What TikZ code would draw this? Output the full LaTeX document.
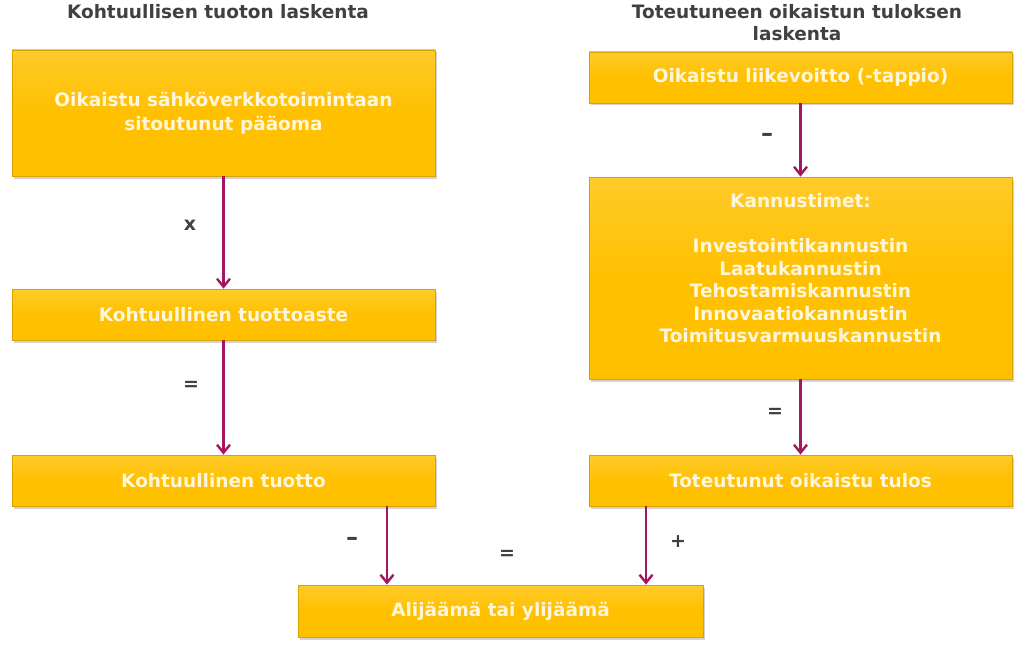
\documentclass[tikz,border=0pt]{standalone}
\usepackage{fontspec}
\setmainfont{DejaVu Sans}
\usetikzlibrary{shadows,arrows.meta,calc}
\definecolor{boxgold}{HTML}{FFC000}
\definecolor{boxtop}{HTML}{FFCB2A}
\definecolor{boxedge}{HTML}{D9A200}
\definecolor{boxtext}{HTML}{FFF6DC}
\definecolor{arrowc}{HTML}{A3175E}
\definecolor{titlec}{HTML}{404040}
\tikzset{
  box/.style={draw=boxedge, line width=0.8pt, top color=boxtop, bottom color=boxgold,
    middle color=boxgold, minimum width=423pt,
    align=center, text=boxtext, font=\bfseries\fontsize{18.5}{24}\selectfont,
    inner sep=0pt, drop shadow={opacity=0.35, shadow xshift=1.5pt, shadow yshift=-2.5pt}},
  arr/.style={draw=arrowc, line width=2.6pt, -{Straight Barb[length=8pt,width=13pt,line width=2.4pt]}},
  lbl/.style={text=titlec, font=\bfseries\fontsize{19}{20}\selectfont},
  ttl/.style={text=titlec, align=center, font=\bfseries\fontsize{18.5}{22}\selectfont}
}
\begin{document}
\begin{tikzpicture}[x=1pt,y=-1pt]
\useasboundingbox (0,0) rectangle (1024,647);
\node[ttl] (tl) at (218,12) {Kohtuullisen tuoton laskenta};
\node[ttl] (tr) at (797,23) {Toteutuneen oikaistun tuloksen\\laskenta};
\node[box, minimum height=126pt] (l1) at (223.5,113) {Oikaistu sähköverkkotoimintaan\\sitoutunut pääoma};
\node[box, minimum height=51pt] (l2) at (223.5,314.5) {Kohtuullinen tuottoaste};
\node[box, minimum height=51pt] (l3) at (223.5,480.5) {Kohtuullinen tuotto};
\node[box, minimum height=51pt] (r1) at (800.5,77.5) {Oikaistu liikevoitto (-tappio)};
\node[box, minimum height=202pt, font=\bfseries\fontsize{18.5}{22.5}\selectfont] (r2) at (800.5,278) {Kannustimet:\\[22.5pt]Investointikannustin\\Laatukannustin\\Tehostamiskannustin\\Innovaatiokannustin\\Toimitusvarmuuskannustin\\[-2.5pt]\mbox{}};
\node[box, minimum height=51pt] (r3) at (800.5,480.5) {Toteutunut oikaistu tulos};
\node[box, minimum width=405pt, minimum height=52pt] (b) at (500.5,611) {Alijäämä tai ylijäämä};
\draw[arr] (l1) -- (l2);
\draw[arr] (l2) -- (l3);
\draw[arr] (r1) -- (r2);
\draw[arr] (r2) -- (r3);
\coordinate (bl) at ([xshift=163.5pt]l3.south);
\coordinate (br) at ([xshift=-154.5pt]r3.south);
\draw[arr] (bl) -- (bl |- b.north);
\draw[arr] (br) -- (br |- b.north);
\node[lbl] (x1) at (190,225) {x};
\node[lbl] (e1) at (191,386) {=};
\node[lbl, font=\bfseries\fontsize{24}{20}\selectfont] (m1) at (767,137) {–};
\node[lbl] (e2) at (775,413) {=};
\node[lbl, font=\bfseries\fontsize{24}{20}\selectfont] (m2) at (352,541) {–};
\node[lbl] (e3) at (507,555) {=};
\node[lbl] (p1) at (678,542) {+};
\end{tikzpicture}
\end{document}
